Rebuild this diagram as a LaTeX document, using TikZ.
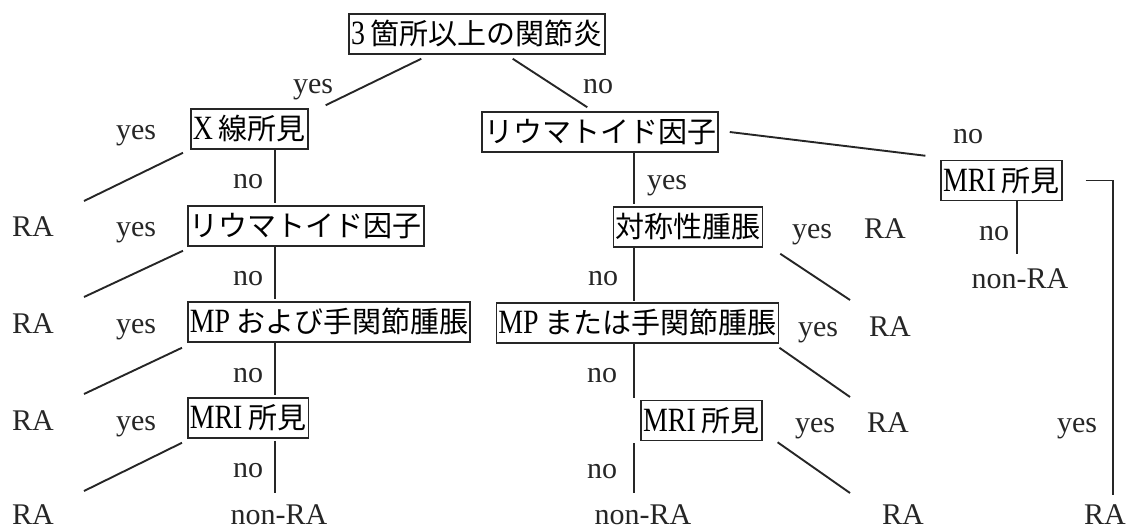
\documentclass[tikz,border=0pt]{standalone}
\usepackage{fontspec}
\setmainfont{Liberation Serif}
\newfontfamily\jpfont{Noto Sans CJK JP}
\newfontfamily\boxlatfont[FakeStretch=0.82]{Liberation Serif}
\newcommand\jtxt[1]{{\jpfont #1}}
\newcommand\ltxt[1]{{\boxlatfont\fontsize{34}{34}\selectfont #1}}
\begin{document}
\begin{tikzpicture}[x=1pt,y=-1pt,
  box/.style={draw=black!85,line width=1.5pt,inner xsep=2pt,inner ysep=0pt,
    minimum height=40pt,text height=25pt,text depth=4pt,
    font=\fontsize{29}{30}\selectfont},
  lab/.style={inner sep=0pt,anchor=base,text=black!85,font=\fontsize{30}{32}\selectfont},
  con/.style={line width=1.9pt,draw=black!85}]
\path[use as bounding box] (0,0) rectangle (1129,531);

% boxes
\node[box] (top) at (477,34) {\ltxt{3}\hspace{6pt}\jtxt{箇所以上の関節炎}};
\node[box,anchor=west] (xray) at (190,129) {\ltxt{X}\hspace{6pt}\jtxt{線所見}};
\node[box,anchor=west] (rf1) at (187,226) {\jtxt{リウマトイド因子}};
\node[box,anchor=west] (mp1) at (187,322) {\ltxt{MP}\hspace{6pt}\jtxt{および手関節腫脹}};
\node[box,anchor=west] (mri1) at (187,418) {\ltxt{MRI}\hspace{6pt}\jtxt{所見}};
\node[box] (rf2) at (600,132) {\jtxt{リウマトイド因子}};
\node[box] (sym) at (688,227) {\jtxt{対称性腫脹}};
\node[box] (mp2) at (637.5,323) {\ltxt{MP}\hspace{6pt}\jtxt{または手関節腫脹}};
\node[box] (mri2) at (701.5,420.5) {\ltxt{MRI}\hspace{6pt}\jtxt{所見}};
\node[box] (mri3) at (1001.5,180.5) {\ltxt{MRI}\hspace{6pt}\jtxt{所見}};

% labels
\node[lab] (y0) at (313,93) {yes};
\node[lab] (n0) at (598,93) {no};
\node[lab] (ly1) at (136,139) {yes};
\node[lab] (ly2) at (136,236) {yes};
\node[lab] (ly3) at (136,333) {yes};
\node[lab] (ly4) at (136,430) {yes};
\node[lab] (lr1) at (33,236) {RA};
\node[lab] (lr2) at (33,333) {RA};
\node[lab] (lr3) at (33,430) {RA};
\node[lab] (lr4) at (33,524) {RA};
\node[lab] (ln1) at (248,188) {no};
\node[lab] (ln2) at (248,285) {no};
\node[lab] (ln3) at (248,382) {no};
\node[lab] (ln4) at (248,477) {no};
\node[lab] (lnra) at (279,524) {non-RA};
\node[lab] (ry1) at (667,189) {yes};
\node[lab] (rn1) at (603,285) {no};
\node[lab] (rn2) at (602,382) {no};
\node[lab] (rn3) at (602,478) {no};
\node[lab] (rnra) at (643,524) {non-RA};
\node[lab] (ry2) at (812,238) {yes};
\node[lab] (rr2) at (885,238) {RA};
\node[lab] (ry3) at (818,336) {yes};
\node[lab] (rr3) at (890,336) {RA};
\node[lab] (ry4) at (815,432) {yes};
\node[lab] (rr4) at (888,432) {RA};
\node[lab] (rr5) at (903,524) {RA};
\node[lab] (fn0) at (968,143) {no};
\node[lab] (fn1) at (994,240) {no};
\node[lab] (fnra) at (1020,288) {non-RA};
\node[lab] (fy1) at (1077,432) {yes};
\node[lab] (fr1) at (1105,524) {RA};

% free ends
\coordinate (vL) at (275,0);
\coordinate (vR) at (634,0);
\coordinate (vM) at (1017,0);
\coordinate (e1) at (84,201);
\coordinate (e2) at (84,297);
\coordinate (e3) at (84,394);
\coordinate (e4) at (84,491);
\coordinate (e5) at (275,493);
\coordinate (e7) at (634,493);
\coordinate (e8) at (850,300);
\coordinate (e9) at (850,397);
\coordinate (e10) at (850,493);
\coordinate (e11) at (1017,254);
\coordinate (e12) at (1113,495);

% connectors
\draw[con] ([shift={(73,4)}]top.south west) -- ([shift={(17,-3)}]xray.north east);
\draw[con] ([shift={(-93,4)}]top.south east) -- ([shift={(106,-4)}]rf2.north west);

\draw[con] ([shift={(-7,3)}]xray.south west) -- (e1);
\draw[con] ([shift={(-4,4)}]rf1.south west) -- (e2);
\draw[con] ([shift={(-5,5)}]mp1.south west) -- (e3);
\draw[con] ([shift={(-5,4)}]mri1.south west) -- (e4);

\draw[con,shorten >=2pt] (xray.south -| vL) -- (rf1.north -| vL);
\draw[con,shorten >=2pt] (rf1.south -| vL) -- (mp1.north -| vL);
\draw[con,shorten >=2pt] (mp1.south -| vL) -- (mri1.north -| vL);
\draw[con,shorten <=2pt] (mri1.south -| vL) -- (e5);

\draw[con,shorten >=2pt] (rf2.south -| vR) -- (sym.north -| vR);
\draw[con,shorten >=1pt] (sym.south -| vR) -- (mp2.north -| vR);
\draw[con,shorten >=2pt] (mp2.south -| vR) -- (mri2.north -| vR);
\draw[con,shorten <=2pt] (mri2.south -| vR) -- (e7);

\draw[con] ([shift={(17,6)}]sym.south east) -- (e8);
\draw[con] ([shift={(0,4)}]mp2.south east) -- (e9);
\draw[con] ([shift={(15,1)}]mri2.south east) -- (e10);

\draw[con] ([shift={(11,0)}]rf2.east) -- ([shift={(-15,-4)}]mri3.north west);
\draw[con] (mri3.south -| vM) -- (e11);
\draw[con] ([shift={(23,0)}]mri3.east) -| (e12);
\end{tikzpicture}
\end{document}
